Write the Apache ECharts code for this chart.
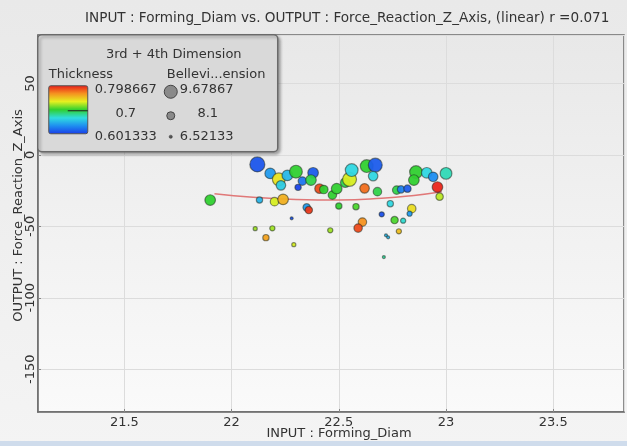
<!DOCTYPE html>
<html><head><meta charset="utf-8">
<script src="https://cdn.jsdelivr.net/npm/echarts@6/dist/echarts.min.js"></script>
<style>html,body{margin:0;padding:0;background:#ececec;}#c{width:627px;height:446px;}</style>
</head><body><div id="c"></div>
<script>
const titleText = 'INPUT : Forming_Diam vs. OUTPUT : Force_Reaction_Z_Axis, (linear) r =0.071';
const xName = 'INPUT : Forming_Diam';
const yName = 'OUTPUT : Force_Reaction_Z_Axis';
const colorName = 'Thickness';
const sizeName = 'Bellevi...ension';
const legendTitle = '3rd + 4th Dimension';
const thicknessRange = [0.601333, 0.798667];
const thicknessLabels = ['0.798667', '0.7', '0.601333'];
const sizeRange = [6.52133, 9.67867];
const sizeLabels = ['9.67867', '8.1', '6.52133'];

const formingDiam = [21.90,22.12,22.18,22.22,22.23,22.26,22.30,22.33,22.31,22.38,22.37,22.41,22.43,22.13,22.20,22.24,22.35,22.36,22.28,22.11,22.19,22.16,22.29,22.47,22.49,22.53,22.55,22.56,22.63,22.67,22.66,22.62,22.68,22.77,22.79,22.82,22.86,22.85,22.91,22.94,23.00,22.96,22.97,22.50,22.58,22.74,22.84,22.83,22.70,22.76,22.80,22.61,22.59,22.46,22.78,22.72,22.73,22.71];
const forceZ = [-31.6,-6.6,-12.9,-17.1,-21.3,-14.3,-11.7,-18.3,-22.7,-12.5,-17.6,-23.6,-24.2,-31.6,-32.7,-31.1,-36.7,-38.6,-44.4,-51.6,-51.4,-57.9,-62.8,-28.1,-23.6,-19.4,-17.1,-10.6,-7.8,-7.1,-14.8,-23.4,-25.7,-24.6,-24.1,-23.6,-12.0,-17.6,-12.5,-15.3,-12.9,-22.5,-29.2,-35.8,-36.2,-34.1,-37.6,-41.1,-41.6,-45.6,-46.0,-47.0,-51.2,-52.8,-53.5,-56.3,-57.7,-71.5];
const thickness = [0.700,0.612,0.640,0.738,0.660,0.652,0.700,0.625,0.605,0.615,0.695,0.785,0.700,0.650,0.730,0.755,0.640,0.790,0.610,0.720,0.720,0.760,0.730,0.700,0.700,0.695,0.730,0.665,0.700,0.615,0.665,0.775,0.695,0.695,0.630,0.615,0.700,0.700,0.665,0.635,0.675,0.795,0.725,0.700,0.705,0.665,0.740,0.640,0.610,0.705,0.670,0.765,0.785,0.720,0.750,0.650,0.650,0.680];
const belleville = [8.53,9.68,8.53,9.10,8.24,8.53,9.10,7.96,7.38,8.53,8.53,8.24,7.96,7.38,7.96,8.53,7.67,7.67,6.52,6.81,7.09,7.38,6.81,7.96,8.53,8.24,9.39,9.10,9.10,9.39,8.24,8.24,7.96,7.96,7.67,7.67,9.10,8.53,8.53,8.24,8.82,8.53,7.67,7.38,7.38,7.38,7.96,7.09,7.09,7.67,7.09,7.96,7.96,7.09,7.09,6.52,6.52,6.52];

const trendX = [21.92, 22.10, 22.30, 22.50, 22.70, 22.85, 22.98];
const trendY = [-27.1, -29.6, -31.2, -31.6, -30.4, -28.4, -25.8];

const rainbow = ['#1a3ae8','#1e8cf0','#30dce0','#30d030','#e6f020','#f59020','#e81818'];

const points = formingDiam.map((x, i) => [x, forceZ[i], thickness[i], belleville[i]]);
const trend = trendX.map((x, i) => [x, trendY[i]]);

const chart = echarts.init(document.getElementById('c'), null, {renderer: 'canvas'});
const FONT = 'DejaVu Sans';
const LF = '13px "DejaVu Sans"';
const LX = 37, LY = 34;
function txt(x, y, t, align) {
  return {type: 'text', x: x, y: y, z: 101, style: {text: t, font: LF, fill: '#333', align: align || 'center', verticalAlign: 'middle'}};
}
chart.setOption({
  backgroundColor: new echarts.graphic.LinearGradient(0, 0, 0, 1, [{offset: 0, color: '#e9e9e9'}, {offset: 1, color: '#f4f4f4'}]),
  animation: false,
  title: {text: titleText, left: 80, top: 6, textStyle: {fontFamily: FONT, fontSize: 13.6, fontWeight: 'normal', color: '#333'}},
  grid: {left: 38, right: 3, top: 35, bottom: 34, containLabel: false, outerBoundsMode: 'none', show: true, borderColor: '#6a6a6a', borderWidth: 1.5,
    backgroundColor: new echarts.graphic.LinearGradient(0, 0, 0, 1, [{offset: 0, color: '#e8e8e8'}, {offset: 1, color: '#fafafa'}])},
  xAxis: {type: 'value', min: 21.097, max: 23.83, splitNumber: 5,
    name: xName, nameLocation: 'middle', nameGap: 15, nameMoveOverlap: false, nameTextStyle: {fontFamily: FONT, fontSize: 13, color: '#333', padding: [0, 0, 0, 16]},
    axisLine: {show: true, onZero: false, lineStyle: {color: '#6a6a6a', width: 1.5}},
    axisTick: {show: true, inside: true, length: 3, lineStyle: {color: '#888'}},
    axisLabel: {fontFamily: FONT, fontSize: 13, color: '#333', margin: 4, showMinLabel: false, showMaxLabel: false},
    splitLine: {show: true, lineStyle: {color: '#dcdcdc', width: 1}}},
  yAxis: {type: 'value', min: -180, max: 84, splitNumber: 5,
    name: yName, nameLocation: 'middle', nameGap: 13, nameMoveOverlap: false, nameTextStyle: {fontFamily: FONT, fontSize: 13, color: '#333', padding: [0, 0, 0, 16]},
    axisLine: {show: true, onZero: false, lineStyle: {color: '#6a6a6a', width: 1.5}},
    axisTick: {show: true, inside: true, length: 3, lineStyle: {color: '#888'}},
    axisLabel: {fontFamily: FONT, fontSize: 13, color: '#333', margin: 1, rotate: 90, showMinLabel: false, showMaxLabel: false},
    splitLine: {show: true, lineStyle: {color: '#dcdcdc', width: 1}}},
  visualMap: [
    {type: 'continuous', show: false, seriesIndex: 1, dimension: 2, min: thicknessRange[0], max: thicknessRange[1], inRange: {color: rainbow}},
    {type: 'continuous', show: false, seriesIndex: 1, dimension: 3, min: sizeRange[0], max: sizeRange[1], inRange: {symbolSize: [3, 15]}}
  ],
  series: [
    {type: 'line', data: trend, smooth: true, showSymbol: false, symbol: 'none', lineStyle: {color: '#e07878', width: 1.5}, z: 1},
    {type: 'scatter', data: points, itemStyle: {borderColor: 'rgba(30,40,30,0.55)', borderWidth: 1.2, opacity: 0.95}, z: 2}
  ],
  graphic: [
    {type: 'group', left: LX, top: LY, z: 100, children: [
      {type: 'rect', z: 100, shape: {x: 0, y: 0, width: 240, height: 117, r: 4},
        style: {fill: '#d9d9d9', stroke: '#6a6a6a', lineWidth: 1.5, shadowBlur: 3, shadowOffsetX: 2, shadowOffsetY: 2, shadowColor: 'rgba(0,0,0,0.3)'}},
      txt(136, 20, legendTitle),
      txt(11, 40, colorName, 'left'),
      txt(129, 40, sizeName, 'left'),
      {type: 'rect', z: 101, shape: {x: 11, y: 51, width: 39, height: 48, r: 2},
        style: {stroke: '#555', lineWidth: 1, fill: new echarts.graphic.LinearGradient(0, 1, 0, 0, rainbow.map((c, i) => ({offset: i / (rainbow.length - 1), color: c})))}},
      {type: 'line', z: 102, shape: {x1: 30, y1: 76, x2: 50, y2: 76}, style: {stroke: '#222', lineWidth: 1}},
      txt(88, 55, thicknessLabels[0]),
      txt(88, 79, thicknessLabels[1]),
      txt(88, 102, thicknessLabels[2]),
      {type: 'circle', z: 101, shape: {cx: 133, cy: 57, r: 6.5}, style: {fill: '#8a8a8a', stroke: '#444', lineWidth: 1}},
      {type: 'circle', z: 101, shape: {cx: 133, cy: 81, r: 4}, style: {fill: '#8a8a8a', stroke: '#444', lineWidth: 1}},
      {type: 'circle', z: 101, shape: {cx: 133, cy: 102, r: 1.6}, style: {fill: '#555', stroke: '#333', lineWidth: 0.5}},
      txt(169, 55, sizeLabels[0]),
      txt(170, 79, sizeLabels[1]),
      txt(169, 102, sizeLabels[2])
    ]},
    {type: 'rect', left: 0, bottom: 0, z: 100, shape: {width: 627, height: 5}, style: {fill: '#cfdcec'}}
  ]
});
</script></body></html>
